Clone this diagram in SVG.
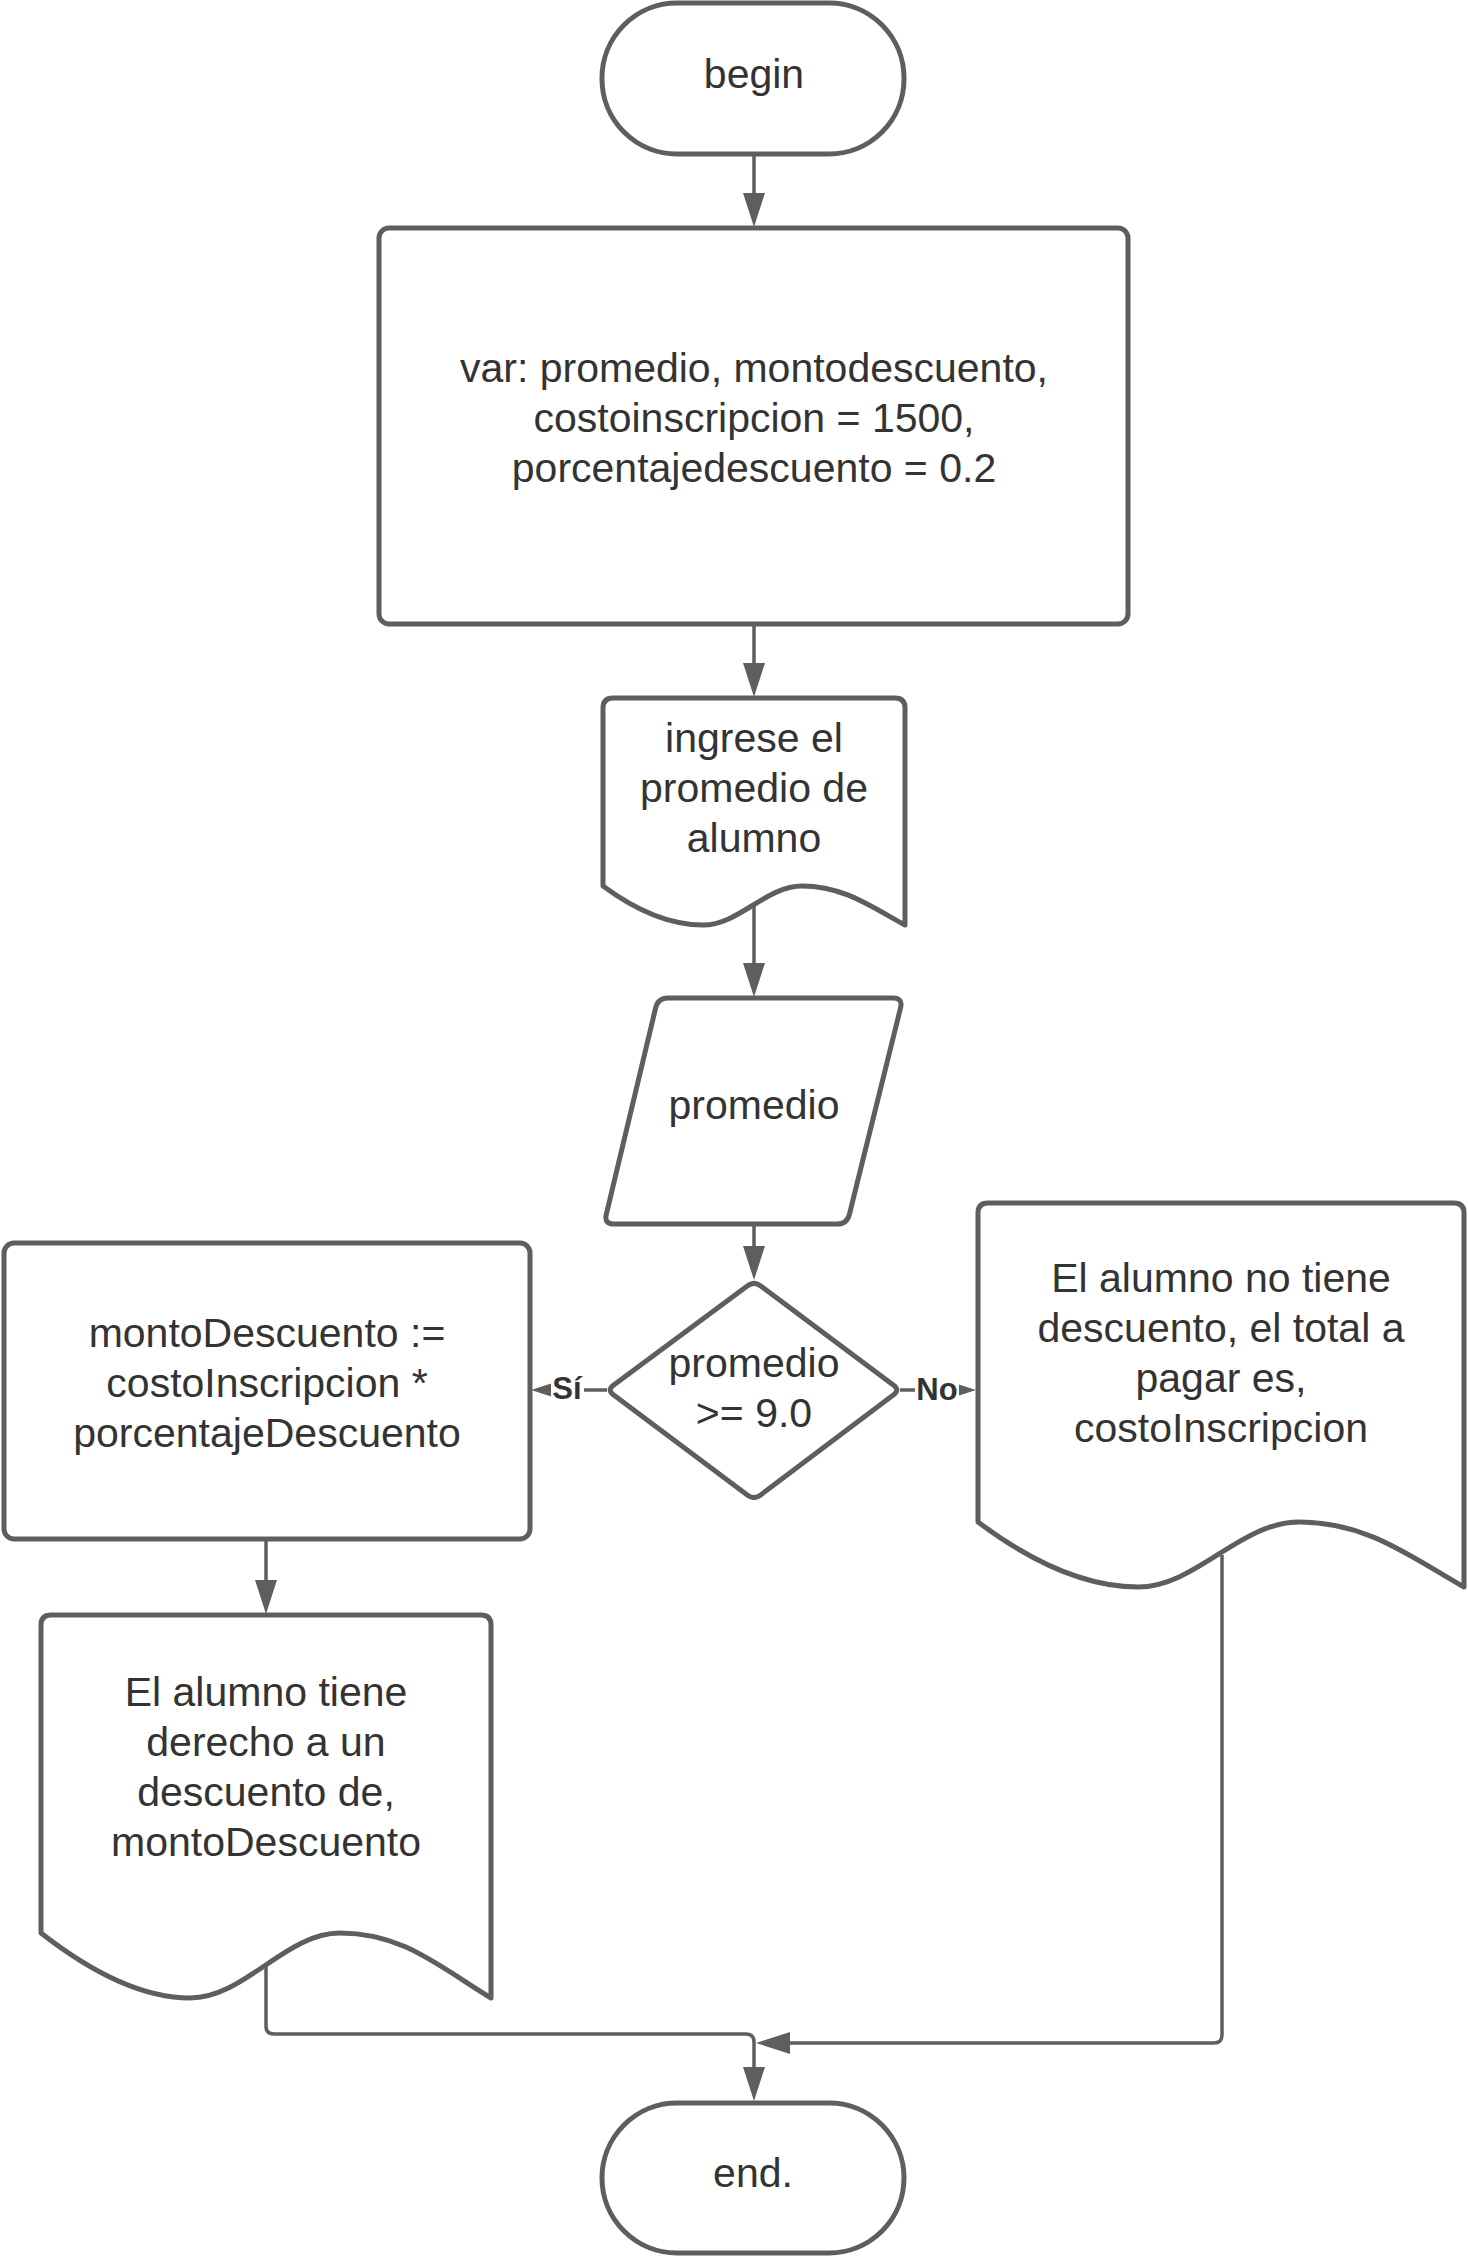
<svg xmlns="http://www.w3.org/2000/svg" width="1468" height="2256" viewBox="0 0 1468 2256">
<style>
.n{fill:#ffffff;stroke:#5e5e5e;stroke-width:5;stroke-linejoin:round}
.t{font-family:"Liberation Sans",Arial,sans-serif;font-size:41px;fill:#333333;text-anchor:middle}
.c{fill:none;stroke:#5e5e5e;stroke-width:3.5}
.h{fill:#5e5e5e;stroke:none}
.l{font-family:"Liberation Sans",Arial,sans-serif;font-size:31px;font-weight:bold;fill:#333333;text-anchor:middle}
.bg{fill:#ffffff}
</style>
<rect width="1468" height="2256" fill="#ffffff"/>
<g id="begin">
<rect class="n" x="602" y="3" width="302" height="151" rx="75" ry="75"/>
<text class="t" x="754" y="88">begin</text>
</g>
<g id="vars">
<rect class="n" x="379" y="228" width="749" height="396" rx="10"/>
<text class="t" x="754" y="382">var: promedio, montodescuento,</text>
<text class="t" x="754" y="432">costoinscripcion = 1500,</text>
<text class="t" x="754" y="482">porcentajedescuento = 0.2</text>
</g>
<g id="prompt">
<path class="n" d="M603,886 V708 Q603,698 613,698 H895 Q905,698 905,708 V925 C870,906 843,886 802,886 C766,886 739,925 703,925 C666,925 630,906 603,886 Z"/>
<text class="t" x="754" y="752">ingrese el</text>
<text class="t" x="754" y="802">promedio de</text>
<text class="t" x="754" y="852">alumno</text>
</g>
<g id="input">
<path class="n" d="M668,998 L893,998 Q903,998 900.6,1007.7 L849.4,1214.3 Q847,1224 837,1224 L614,1224 Q604,1224 606.3,1214.3 L655.7,1007.7 Q658,998 668,998 Z"/>
<text class="t" x="754" y="1119">promedio</text>
</g>
<g id="decision">
<path class="n" d="M760.4,1285.8 L893.6,1385.2 Q900,1390 893.6,1394.8 L760.4,1495.2 Q754,1500 747.6,1495.2 L613.4,1394.8 Q607,1390 613.4,1385.2 L747.6,1285.8 Q754,1281 760.4,1285.8 Z"/>
<text class="t" x="754" y="1377">promedio</text>
<text class="t" x="754" y="1427">&gt;= 9.0</text>
</g>
<g id="calc">
<rect class="n" x="4" y="1243" width="526" height="296" rx="10"/>
<text class="t" x="267" y="1347">montoDescuento :=</text>
<text class="t" x="267" y="1397">costoInscripcion *</text>
<text class="t" x="267" y="1447">porcentajeDescuento</text>
</g>
<g id="noDiscount">
<path class="n" d="M978,1522 V1213 Q978,1203 988,1203 H1454 Q1464,1203 1464,1213 V1587 C1408,1555 1366,1522 1299,1522 C1240,1522 1196,1587 1138,1587 C1080,1587 1022,1555 978,1522 Z"/>
<text class="t" x="1221" y="1292">El alumno no tiene</text>
<text class="t" x="1221" y="1342">descuento, el total a</text>
<text class="t" x="1221" y="1392">pagar es,</text>
<text class="t" x="1221" y="1442">costoInscripcion</text>
</g>
<g id="discount">
<path class="n" d="M41,1933 V1625 Q41,1615 51,1615 H481 Q491,1615 491,1625 V1998 C437,1965 402,1933 340,1933 C285,1933 245,1998 190,1998 C135,1998 82,1965 41,1933 Z"/>
<text class="t" x="266" y="1706">El alumno tiene</text>
<text class="t" x="266" y="1756">derecho a un</text>
<text class="t" x="266" y="1806">descuento de,</text>
<text class="t" x="266" y="1856">montoDescuento</text>
</g>
<g id="end">
<rect class="n" x="602" y="2103" width="302" height="150" rx="75" ry="75"/>
<text class="t" x="753" y="2187">end.</text>
</g>
<g id="connectors">
<path class="c" d="M754,155 V200"/>
<polygon class="h" points="754,227 743,193 765,193"/>
<path class="c" d="M754,624 V670"/>
<polygon class="h" points="754,697 743,663 765,663"/>
<path class="c" d="M754,906 V970"/>
<polygon class="h" points="754,997 743,963 765,963"/>
<path class="c" d="M754,1224 V1254"/>
<polygon class="h" points="754,1280 743,1246 765,1246"/>
<path class="c" d="M607,1390 H560"/>
<polygon class="h" points="531,1390 565,1379 565,1401"/>
<rect class="bg" x="551" y="1372" width="33" height="34"/>
<text class="l" x="567" y="1399">Sí</text>
<path class="c" d="M900,1390 H945"/>
<polygon class="h" points="976,1390 942,1379 942,1401"/>
<rect class="bg" x="915" y="1372" width="44" height="34"/>
<text class="l" x="937" y="1400">No</text>
<path class="c" d="M266,1539 V1590"/>
<polygon class="h" points="266,1614 255,1580 277,1580"/>
<path class="c" d="M266,1966 V2026 Q266,2034 274,2034 H746 Q754,2034 754,2042 V2072"/>
<polygon class="h" points="754,2101 743,2067 765,2067"/>
<path class="c" d="M1222,1555 V2035 Q1222,2043 1214,2043 H785"/>
<polygon class="h" points="756,2043 790,2032 790,2054"/>
</g>
</svg>
